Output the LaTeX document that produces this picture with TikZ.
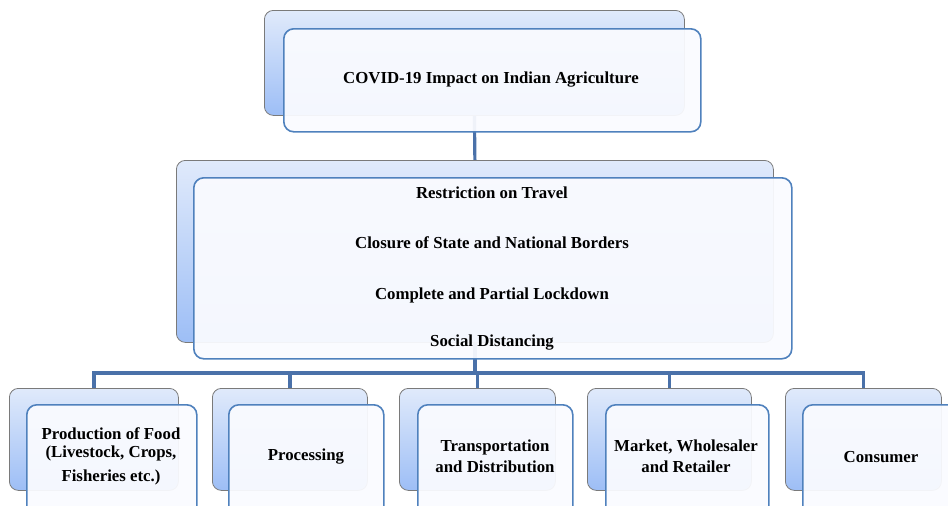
\documentclass[tikz,border=0pt]{standalone}
\usepackage{fontspec}
\setmainfont{Liberation Serif}
\usetikzlibrary{backgrounds}
\definecolor{backtop}{HTML}{E0EAFB}
\definecolor{backbot}{HTML}{9DBEF6}
\definecolor{backedge}{HTML}{7A7A7A}
\definecolor{frontedge}{HTML}{4F81BD}
\definecolor{frontfill}{HTML}{FAFBFF}
\definecolor{linkcol}{HTML}{4A71A9}
\begin{document}
\begin{tikzpicture}[x=1pt,y=-1pt,
 backbox/.style={draw=backedge, line width=0.8pt, rounded corners=9pt, top color=backtop, bottom color=backbot, anchor=north west, inner sep=0pt},
 frontbox/.style={draw=frontedge, line width=1.6pt, rounded corners=10pt, fill=frontfill, fill opacity=0.94, anchor=north west, inner sep=0pt},
 txt/.style={font=\fontsize{16.8}{19}\selectfont\bfseries, align=center, text=black, inner sep=0pt},
 link/.style={draw=linkcol, line width=3.2pt}]
\clip (0,0) rectangle (948,506);
% top
\node[backbox, minimum width=420pt, minimum height=105pt] (topback) at (264,10) {};
\node[frontbox, minimum width=417pt, minimum height=103pt] (topfront) at (283,28) {};
\node[txt] (t0) at (491,80) {COVID-19 Impact on Indian Agriculture};
% middle
\node[backbox, minimum width=597pt, minimum height=182pt] (midback) at (176,160) {};
\node[frontbox, minimum width=598pt, minimum height=181pt] (midfront) at (193,177) {};
\node[txt] (m1) at (492,193) {Restriction on Travel};
\node[txt] (m2) at (492,243) {Closure of State and National Borders};
\node[txt] (m3) at (492,295) {Complete and Partial Lockdown};
\node[txt] (m4) at (492,343) {Social Distancing};
% bottom row
\node[backbox, minimum width=169pt, minimum height=102pt] (b1back) at (9,388) {};
\node[frontbox, minimum width=170pt, minimum height=120pt] (b1front) at (26,404) {};
\node[backbox, minimum width=155pt, minimum height=102pt] (b2back) at (212,388) {};
\node[frontbox, minimum width=155pt, minimum height=120pt] (b2front) at (228,404) {};
\node[backbox, minimum width=156pt, minimum height=102pt] (b3back) at (399,388) {};
\node[frontbox, minimum width=155pt, minimum height=120pt] (b3front) at (417,404) {};
\node[backbox, minimum width=164pt, minimum height=102pt] (b4back) at (587,388) {};
\node[frontbox, minimum width=163pt, minimum height=120pt] (b4front) at (605,404) {};
\node[backbox, minimum width=156pt, minimum height=102pt] (b5back) at (785,388) {};
\node[frontbox, minimum width=160pt, minimum height=120pt] (b5front) at (802,404) {};
\node[txt] (b1a) at (111,434) {Production of Food};
\node[txt] (b1b) at (111,453) {(Livestock, Crops,};
\node[txt] (b1c) at (111,477) {Fisheries etc.)};
\node[txt] (b2a) at (306,457) {Processing};
\node[txt] (b3a) at (495,447) {Transportation};
\node[txt] (b3b) at (495,467) {and Distribution};
\node[txt] (b4a) at (686,447) {Market, Wholesaler};
\node[txt] (b4b) at (686,467) {and Retailer};
\node[txt] (b5a) at (881,457) {Consumer};
\coordinate (busy) at (0,373);
\begin{scope}[on background layer]
\draw[link] (topback.south) -- (midback.north);
\draw[link] (midback.south) -- (midback.south |- busy);
\draw[link] (b1back.north) -- (b1back.north |- busy) -- (b5back.north |- busy) -- (b5back.north);
\draw[link] (b2back.north) -- (b2back.north |- busy);
\draw[link] (b3back.north) -- (b3back.north |- busy);
\draw[link] (b4back.north) -- (b4back.north |- busy);
\end{scope}
\end{tikzpicture}
\end{document}
